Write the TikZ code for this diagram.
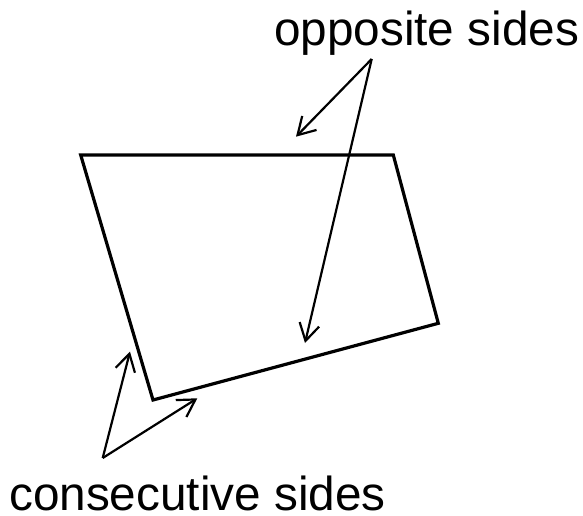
\documentclass[tikz,border=0pt]{standalone}
\usepackage{fontspec}
\setmainfont{Liberation Sans}
\usetikzlibrary{arrows.meta}
\begin{document}
\begin{tikzpicture}[x=1pt,y=-1pt,
  label/.style={anchor=base west,inner sep=0pt,font=\fontsize{47.7}{50}\selectfont},
  side/.style={line width=3.2pt,line join=miter},
  pointer/.style={line width=2.2pt,-{Straight Barb[length=17pt,width=20pt,line width=2.2pt]}}]
\useasboundingbox (0,0) rectangle (583,516);
% quadrilateral
\coordinate (A) at (80.7,155);
\coordinate (B) at (393.3,155);
\coordinate (C) at (438.3,323.3);
\coordinate (D) at (153,400);
\draw[side] (A) -- (B) -- (C) -- (D) -- cycle;
% labels
\node[label] (opp) at (274,46) {opposite sides};
\node[label] (cons) at (9,510) {consecutive sides};
% arrows
\coordinate (o0) at (371.7,59);
\coordinate (o1) at (296,136.7);
\coordinate (o2) at (305,343);
\coordinate (c0) at (102.7,458);
\coordinate (c1) at (130,351.7);
\coordinate (c2) at (197.3,398.3);
\draw[pointer] (o0) -- (o1);
\draw[pointer] (o0) -- (o2);
\draw[pointer] (c0) -- (c1);
\draw[pointer] (c0) -- (c2);
\end{tikzpicture}
\end{document}
